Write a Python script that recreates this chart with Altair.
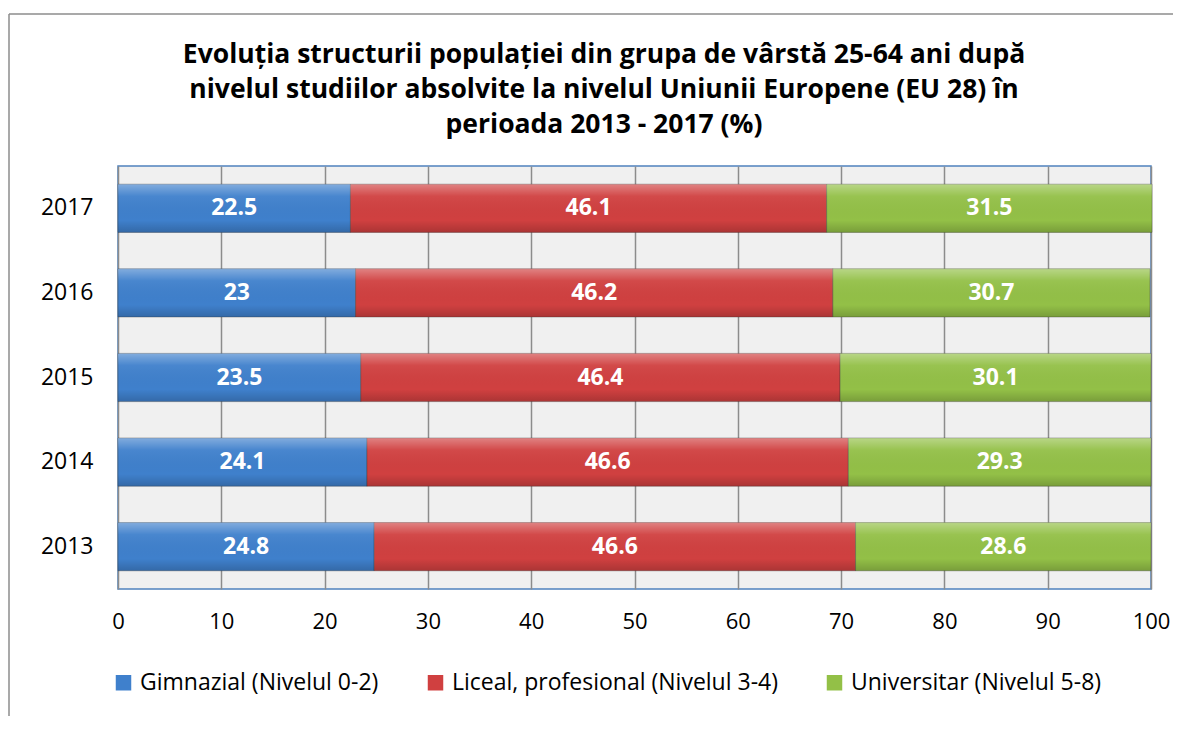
import altair as alt
import pandas as pd

years = ["2013", "2014", "2015", "2016", "2017"]
series = ["Gimnazial (Nivelul 0-2)", "Liceal, profesional (Nivelul 3-4)", "Universitar (Nivelul 5-8)"]
gimnazial = [24.8, 24.1, 23.5, 23, 22.5]
liceal = [46.6, 46.6, 46.4, 46.2, 46.1]
universitar = [28.6, 29.3, 30.1, 30.7, 31.5]
colors = ["#3f80cc", "#d04040", "#93c047"]
title_lines = [
    "Evoluția structurii populației din grupa de vârstă 25-64 ani după",
    "nivelul studiilor absolvite la nivelul Uniunii Europene (EU 28) în",
    "perioada 2013 - 2017 (%)",
]

rows = []
for i, yr in enumerate(years):
    for k, (s, vals) in enumerate(zip(series, [gimnazial, liceal, universitar])):
        rows.append({"an": yr, "nivel": s, "ord": k, "val": vals[i], "lab": f"{vals[i]:g}"})
df = pd.DataFrame(rows)

FONT = "Open Sans"

base = alt.Chart(df).transform_stack(
    stack="val", groupby=["an"], sort=[alt.SortField("ord", order="ascending")], as_=["x0", "x1"]
).transform_calculate(mid="(datum.x0 + datum.x1) / 2")

y_enc = alt.Y(
    "an:N",
    sort="descending",
    scale=alt.Scale(paddingInner=0.43, paddingOuter=0.215),
    axis=alt.Axis(title=None, labelFontSize=23, labelPadding=25, ticks=False, domain=False,
                  labelFont=FONT, labelColor="black"),
)

bars = base.mark_bar(stroke="#333333", strokeOpacity=0.35, strokeWidth=1).encode(
    x=alt.X("x0:Q", scale=alt.Scale(domain=[0, 100], nice=False),
            axis=alt.Axis(values=list(range(0, 101, 10)), grid=True, gridColor="#8c8c8c",
                          gridWidth=1.5, ticks=False, domain=False, labelFontSize=22,
                          labelPadding=22, labelFlush=False, title=None, labelFont=FONT,
                          labelColor="black")),
    x2="x1:Q",
    y=y_enc,
    color=alt.Color("nivel:N", scale=alt.Scale(domain=series, range=colors),
                    legend=alt.Legend(orient="none", legendX=-6, legendY=505, direction="horizontal",
                                      title=None, symbolType="square", symbolSize=240,
                                      labelFontSize=23, labelFont=FONT, labelColor="black",
                                      labelLimit=0, columnPadding=45, labelOffset=5,
                                      symbolStrokeWidth=0)),
    order=alt.Order("ord:Q"),
)

shine = base.mark_bar(
    fill=alt.Gradient(
        gradient="linear", x1=0, x2=0, y1=0, y2=1,
        stops=[alt.GradientStop(color="rgba(255,255,255,0.35)", offset=0),
               alt.GradientStop(color="rgba(255,255,255,0.05)", offset=0.25),
               alt.GradientStop(color="rgba(0,0,0,0.0)", offset=0.75),
               alt.GradientStop(color="rgba(0,0,0,0.18)", offset=1)]),
).encode(x="x0:Q", x2="x1:Q", y=alt.Y("an:N", sort="descending"))

labels = base.mark_text(color="white", fontSize=23, fontWeight="bold", font=FONT).encode(
    x="mid:Q", y=alt.Y("an:N", sort="descending"), text="lab:N"
)

one = pd.DataFrame({"a": [0]})
title = alt.Chart(one).mark_text(
    font=FONT, fontSize=26.5, fontWeight="bold", color="black", baseline="alphabetic",
    align="center", lineHeight=35, clip=False
).encode(x=alt.value(486), y=alt.value(-103), text=alt.value(title_lines))

frame_top = alt.Chart(one).mark_rule(color="#8c8c8c", strokeWidth=1.5, clip=False).encode(
    x=alt.value(-109), x2=alt.value(1055), y=alt.value(-152)
)
frame_left = alt.Chart(one).mark_rule(color="#8c8c8c", strokeWidth=1.5, clip=False).encode(
    x=alt.value(-109), y=alt.value(-152), y2=alt.value(550)
)

chart = alt.layer(bars, shine, labels, title, frame_top, frame_left).properties(
    width=1033, height=423,
    padding={"left": 0, "top": 5, "right": 0, "bottom": 0},
    background="white",
).configure_view(fill="#f0f0f0", stroke="#4f81bd", strokeWidth=1.5)

chart.save("out.html", embed_options={"renderer": "svg", "actions": False})
